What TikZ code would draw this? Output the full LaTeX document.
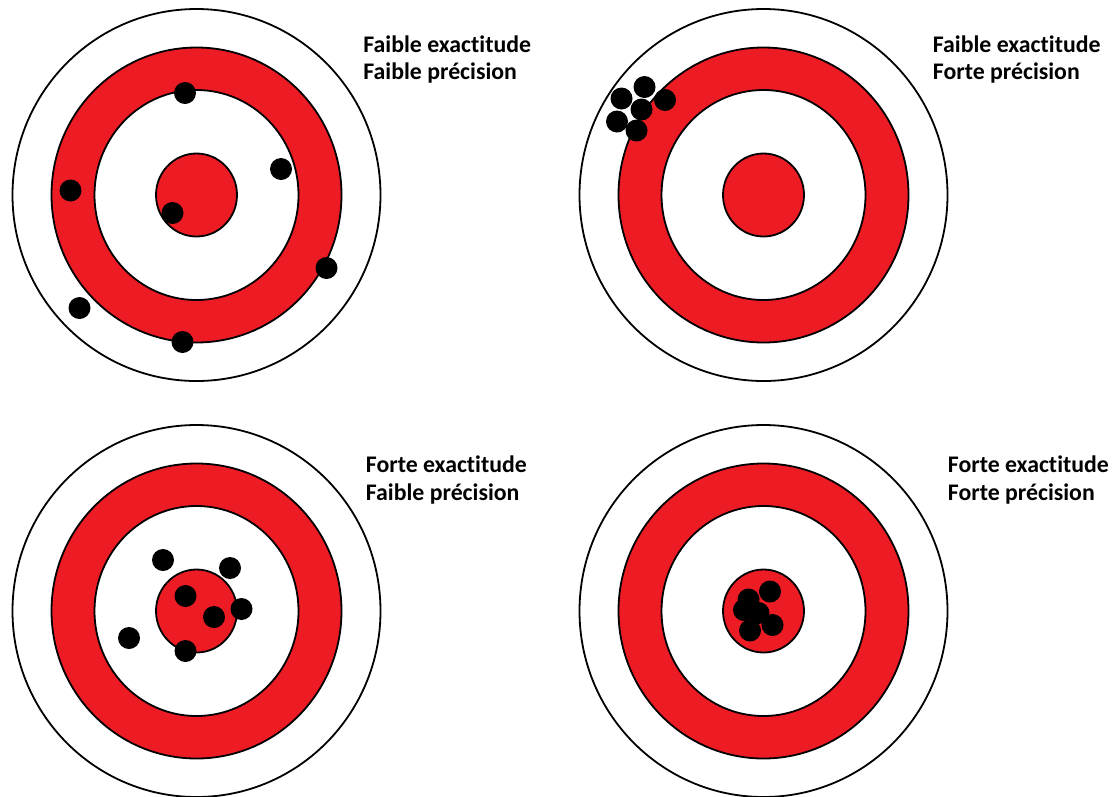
\documentclass[tikz,border=0pt]{standalone}
\usepackage{fontspec}
\setmainfont{Carlito}[Ligatures=NoCommon, Contextuals=NoAlternate]
\usepackage{xcolor}
\definecolor{TargetRed}{HTML}{ED1C24}

\begin{document}
\begin{tikzpicture}[x=1pt, y=-1pt, line width=1.8pt,
    lbl/.style={anchor=base west, inner sep=0pt, font=\fontsize{23.8}{27}\selectfont\bfseries},
    shot/.style={fill=black}]
    \useasboundingbox (0,0) rectangle (1118,796);
    % Targets
    \foreach \cx/\cy/\n in {196.5/195/tl, 763.5/195/tr, 196.5/611/bl, 763.5/611/br} {
        \coordinate (tgt-\n) at (\cx,\cy);
        \draw[fill=white] (tgt-\n) ellipse [x radius=184, y radius=186];
        \draw[fill=TargetRed] (tgt-\n) ellipse [x radius=145, y radius=147.5];
        \draw[fill=white] (tgt-\n) ellipse [x radius=102, y radius=105];
        \draw[fill=TargetRed] (tgt-\n) ellipse [x radius=40.5, y radius=41.5];
    }
    % Shots, top left
    \fill[shot] (185,93) circle [radius=11];
    \fill[shot] (281,169) circle [radius=11];
    \fill[shot] (70.5,190.5) circle [radius=11];
    \fill[shot] (172.5,213) circle [radius=11];
    \fill[shot] (326.5,268) circle [radius=11];
    \fill[shot] (79.5,308) circle [radius=11];
    \fill[shot] (182.5,342) circle [radius=11];
    % Shots, top right
    \fill[shot] (644.5,87) circle [radius=11];
    \fill[shot] (621.5,98.5) circle [radius=11];
    \fill[shot] (641.5,109.5) circle [radius=11];
    \fill[shot] (665,100) circle [radius=11];
    \fill[shot] (617,121.5) circle [radius=11];
    \fill[shot] (636.5,130.5) circle [radius=11];
    % Shots, bottom left
    \fill[shot] (163,560) circle [radius=11];
    \fill[shot] (230,568) circle [radius=11];
    \fill[shot] (185.5,596) circle [radius=11];
    \fill[shot] (241.5,609) circle [radius=11];
    \fill[shot] (214,617) circle [radius=11];
    \fill[shot] (129,638) circle [radius=11];
    \fill[shot] (185.5,651) circle [radius=11];
    % Shots, bottom right
    \fill[shot] (770,591.5) circle [radius=11];
    \fill[shot] (748.5,599.5) circle [radius=11];
    \fill[shot] (744,610) circle [radius=11];
    \fill[shot] (758.5,613) circle [radius=11];
    \fill[shot] (750,630.5) circle [radius=11];
    \fill[shot] (772.5,625) circle [radius=11];
    % Labels
    \node[lbl] (lab-tl-1) at (362.5,52.5) {Faible exactitude};
    \node[lbl] (lab-tl-2) at (362.5,79.5) {Faible précision};
    \node[lbl] (lab-tr-1) at (932,52.5) {Faible exactitude};
    \node[lbl] (lab-tr-2) at (932,79.5) {Forte précision};
    \node[lbl] (lab-bl-1) at (365,472.5) {Forte exactitude};
    \node[lbl] (lab-bl-2) at (365,500) {Faible précision};
    \node[lbl] (lab-br-1) at (947,472.5) {Forte exactitude};
    \node[lbl] (lab-br-2) at (947,500) {Forte précision};
\end{tikzpicture}
\end{document}
